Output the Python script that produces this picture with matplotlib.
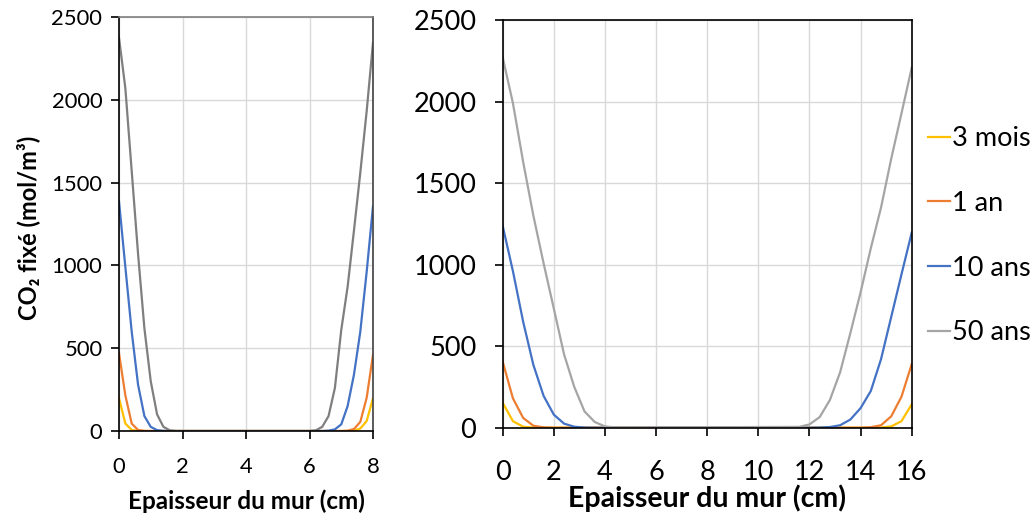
import matplotlib
matplotlib.use("Agg")
import matplotlib.pyplot as plt

plt.rcParams['font.family'] = ['Lato', 'DejaVu Sans']

# ---- Left panel (8 cm wall) ----
x_left = [0, 0.2, 0.4, 0.6, 0.8, 1.0, 1.2, 1.4, 1.6, 1.8, 2.0,
          6.0, 6.2, 6.4, 6.6, 6.8, 7.0, 7.2, 7.4, 7.6, 7.8, 8.0]
left_3mois = [198, 45, 6, 1, 0, 0, 0, 0, 0, 0, 0,
              0, 0, 0, 0, 0, 0, 0, 3, 15, 60, 198]
left_1an = [470, 215, 45, 6, 1, 0, 0, 0, 0, 0, 0,
            0, 0, 0, 0, 0, 0, 2, 12, 55, 200, 460]
left_10ans = [1387, 990, 600, 280, 90, 25, 5, 1, 0, 0, 0,
              0, 0, 0, 2, 10, 40, 150, 340, 600, 960, 1357]
left_50ans = [2375, 2070, 1570, 1070, 620, 300, 100, 25, 4, 0, 0,
              0, 4, 25, 90, 260, 610, 870, 1210, 1560, 1930, 2345]

# ---- Right panel (16 cm wall) ----
x_right = [0, 0.4, 0.8, 1.2, 1.6, 2.0, 2.4, 2.8, 3.2, 3.6, 4.0, 4.4,
           11.6, 12.0, 12.4, 12.8, 13.2, 13.6, 14.0, 14.4, 14.8, 15.2, 15.6, 16.0]
right_3mois = [153, 40, 6, 1, 0, 0, 0, 0, 0, 0, 0, 0,
               0, 0, 0, 0, 0, 0, 0, 0, 1, 8, 40, 143]
right_1an = [405, 180, 60, 12, 2, 0, 0, 0, 0, 0, 0, 0,
             0, 0, 0, 0, 0, 0, 0, 3, 15, 70, 190, 389]
right_10ans = [1237, 960, 650, 385, 195, 80, 25, 6, 1, 0, 0, 0,
               0, 0, 1, 4, 15, 50, 120, 225, 420, 680, 940, 1196]
right_50ans = [2271, 1990, 1630, 1300, 1008, 730, 450, 250, 100, 35, 8, 1,
               5, 20, 65, 170, 340, 580, 830, 1100, 1350, 1650, 1927, 2207]

labels = ["3 mois", "1 an", "10 ans", "50 ans"]
yticks = [0, 500, 1000, 1500, 2000, 2500]
xticks_left = [0, 2, 4, 6, 8]
xticks_right = [0, 2, 4, 6, 8, 10, 12, 14, 16]

col_y = "#FFC000"
col_o = "#ED7D31"
col_b = "#4472C4"
col_g_left = "#7F7F7F"
col_g_right = "#A5A5A5"

fig = plt.figure(figsize=(10.35, 5.15), dpi=100)
axL = fig.add_axes([119/1035, 1 - 431/515, 254/1035, 414/515])
axR = fig.add_axes([502.7/1035, 1 - 427.7/515, 409/1035, 407.7/515])

lw = 1.6
for ax, x, series, gcol in [
    (axL, x_left, [left_3mois, left_1an, left_10ans, left_50ans], col_g_left),
    (axR, x_right, [right_3mois, right_1an, right_10ans, right_50ans], col_g_right),
]:
    cols = [col_y, col_o, col_b, gcol]
    for s, c, lab in zip(series, cols, labels):
        ax.plot(x, s, color=c, lw=lw, label=lab)
    ax.set_ylim(0, 2500)
    ax.set_yticks(yticks)
    ax.grid(True, color="#D9D9D9", lw=1.0)
    ax.set_axisbelow(True)
    for sp in ax.spines.values():
        sp.set_color("black")
        sp.set_linewidth(1.2)
    ax.tick_params(direction='out', length=6, width=1.2, color="black")

axL.spines['top'].set_color("#7F7F7F")
axL.spines['right'].set_color("#404040")

axL.set_xlim(0, 8)
axL.set_xticks(xticks_left)
axR.set_xlim(0, 16)
axR.set_xticks(xticks_right)

axL.tick_params(axis='y', labelsize=15.8, pad=6)
axL.tick_params(axis='x', labelsize=15.8, pad=13)
axR.tick_params(axis='y', labelsize=19.5, pad=13)
axR.tick_params(axis='x', labelsize=19.5, pad=17)

axL.set_xlabel("Epaisseur du mur (cm)", fontsize=17.5, fontweight='bold')
axL.xaxis.set_label_coords(0.5, (431 - 489) / 414)
axR.set_xlabel("Epaisseur du mur (cm)", fontsize=20.5, fontweight='bold')
axR.xaxis.set_label_coords(0.5, (427.7 - 484) / 407.7)
axL.set_ylabel("CO\u2082 fixé (mol/m³)", fontsize=17, fontweight='bold')
axL.yaxis.set_label_coords((40 - 119) / 254, 0.49)

handles, labs = axR.get_legend_handles_labels()
fig.legend(handles, labs, loc='upper left', bbox_to_anchor=(928/1035, 1 - 126/515),
           frameon=False, fontsize=19.5, handlelength=0.8, handletextpad=0.08,
           labelspacing=1.47, borderaxespad=0, borderpad=0)

fig.savefig("out.png", dpi=100)
